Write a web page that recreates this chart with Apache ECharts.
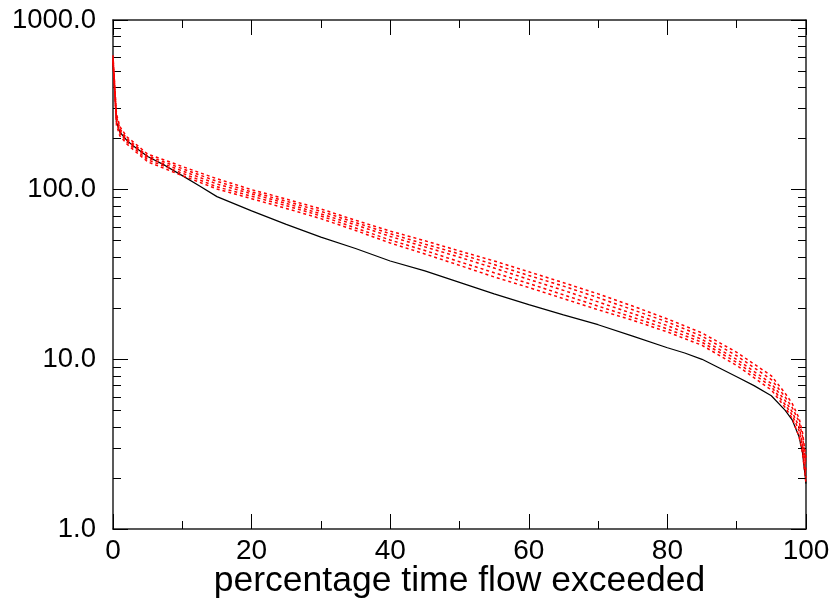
<!DOCTYPE html>
<html>
<head>
<meta charset="utf-8">
<script src="https://cdn.jsdelivr.net/npm/echarts@6/dist/echarts.min.js"></script>
<style>
  html, body { margin: 0; padding: 0; background: #fff; }
  #chart { width: 832px; height: 607px; }
</style>
</head>
<body>
<div id="chart"></div>
<script>
// Flow duration curves: observed (black) and simulated ensemble members (red dashed)
const pctObs = [0, 0.5, 1, 2, 3, 5, 7.5, 10, 12.5, 15, 20, 25, 30, 35, 40, 45, 50, 55, 60, 65, 70, 75, 80, 82.5, 85, 87.5, 90, 92.5, 95, 97, 98, 99, 99.5, 100];
const flowObs = [560, 250, 218, 195, 180, 157, 139, 121, 105, 91, 75, 62.4, 52.5, 45, 38, 33.2, 28.4, 24.3, 21.0, 18.3, 16.0, 13.7, 11.7, 10.9, 10.0, 8.9, 7.9, 7.0, 6.1, 5.0, 4.4, 3.5, 2.8, 1.85];

const pctSim = [0, 0.5, 1, 2, 3, 5, 10, 15, 20, 25, 30, 35, 40, 45, 50, 55, 60, 65, 70, 75, 80, 85, 90, 95, 97, 98, 99, 99.5, 100];
const flowSim1 = [620, 280, 235, 205, 190, 162, 137, 116, 100, 88, 77, 66, 57, 50, 43.5, 38, 32.8, 28.3, 24.3, 20.6, 17.3, 14.3, 11.0, 8.0, 6.3, 5.5, 4.5, 3.7, 2.6];
const flowSim2 = [600, 270, 228, 200, 185, 158, 133, 112, 97, 85.5, 74.5, 64, 55, 47.8, 41.8, 36.2, 31.2, 27.0, 23.1, 19.6, 16.6, 13.7, 10.5, 7.6, 6.0, 5.2, 4.3, 3.5, 2.4];
const flowSim3 = [590, 260, 222, 196, 181, 154, 129, 108, 94.5, 83, 72, 62, 53, 46, 40, 34.5, 29.6, 25.5, 21.8, 18.6, 15.8, 13.1, 10.0, 7.2, 5.7, 4.9, 4.0, 3.2, 2.2];
const flowSim4 = [575, 250, 215, 191, 176, 150, 125, 104, 91.5, 80.5, 70, 59.5, 50.5, 43.8, 37.6, 32.4, 28.0, 24.0, 20.6, 17.7, 15.1, 12.6, 9.6, 6.9, 5.4, 4.7, 3.8, 3.0, 2.0];
const flowSim5 = [560, 240, 207, 186, 171, 146, 121, 101, 88.5, 77.5, 67.5, 57.5, 48.5, 41.8, 35.8, 30.6, 26.5, 22.8, 19.6, 17.0, 14.5, 12.1, 9.2, 6.6, 5.2, 4.5, 3.5, 2.8, 1.85];
const simRuns = [flowSim1, flowSim2, flowSim3, flowSim4, flowSim5];

const xTitle = 'percentage time flow exceeded';

const FONT = '"Liberation Sans", Arial, sans-serif';

function pairs(xs, ys) { return xs.map((x, i) => [x, ys[i]]); }

const series = [];
simRuns.forEach((run, i) => {
  series.push({
    name: 'sim' + (i + 1),
    type: 'line',
    data: pairs(pctSim, run),
    showSymbol: false,
    symbol: 'none',
    lineStyle: { color: '#ff0000', width: 1.5, type: [3, 3] },
    z: 3
  });
});
series.push({
  name: 'obs',
  type: 'line',
  data: pairs(pctObs, flowObs),
  showSymbol: false,
  symbol: 'none',
  lineStyle: { color: '#000', width: 1.2 },
  z: 2
});

function frameLine() {
  return { show: true, onZero: false, lineStyle: { color: '#222', width: 1.5 } };
}
function xAxisDef(pos) {
  return {
    type: 'value', min: 0, max: 100, interval: 20, position: pos,
    axisLine: frameLine(),
    splitLine: { show: false },
    axisTick: { show: true, inside: true, length: 15, lineStyle: { color: '#000', width: 1 } },
    minorTick: { show: true, splitNumber: 2, length: 8, lineStyle: { color: '#000', width: 1 } }
  };
}
function yAxisDef(pos) {
  return {
    type: 'log', logBase: 10, min: 1, max: 1000, position: pos,
    axisLine: frameLine(),
    splitLine: { show: false },
    axisTick: { show: true, inside: true, length: 15, lineStyle: { color: '#000', width: 1 } },
    minorTick: { show: true, splitNumber: 9, length: 8, lineStyle: { color: '#000', width: 1 } }
  };
}

const xBottom = Object.assign(xAxisDef('bottom'), {
  name: xTitle, nameLocation: 'middle', nameGap: 34, nameMoveOverlap: false,
  nameTextStyle: { fontFamily: FONT, fontSize: 35.5, color: '#000' },
  axisLabel: { fontFamily: FONT, fontSize: 28, color: '#000', margin: 8 }
});
const xTop = Object.assign(xAxisDef('top'), {
  axisLabel: { show: true, color: 'rgba(0,0,0,0)', fontSize: 1, margin: 0 }
});
const yLeft = Object.assign(yAxisDef('left'), {
  axisLabel: { fontFamily: FONT, fontSize: 27.5, color: '#000', margin: 17,
    formatter: v => Number(v).toFixed(1) }
});
const yRight = Object.assign(yAxisDef('right'), { axisLabel: { show: false } });

const chart = echarts.init(document.getElementById('chart'), null, { renderer: 'canvas' });
chart.setOption({
  animation: false,
  backgroundColor: '#fff',
  grid: { left: 113, right: 26, top: 20, bottom: 78, containLabel: false, outerBoundsMode: 'none' },
  xAxis: [xBottom, xTop],
  yAxis: [yLeft, yRight],
  series: series
});
</script>
</body>
</html>
